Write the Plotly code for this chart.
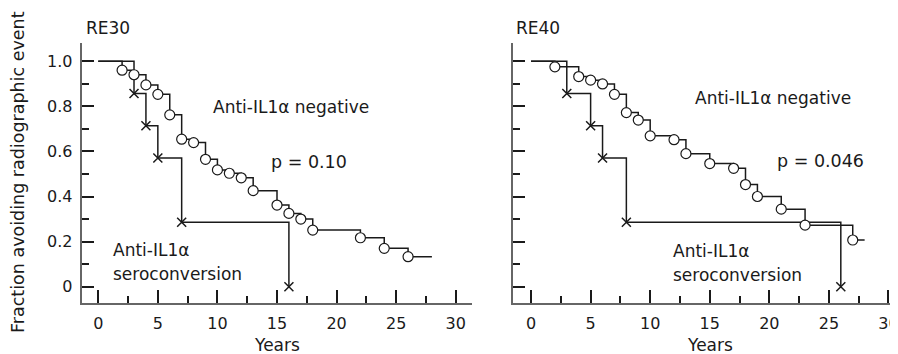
import plotly.graph_objects as go
from plotly.subplots import make_subplots

# ---- data ----
# RE30 panel
re30_neg_years = [2, 3, 4, 5, 6, 7, 8, 9, 10, 11, 12, 13, 15, 16, 17, 18, 22, 24, 26]
re30_neg_frac = [0.96, 0.94, 0.895, 0.853, 0.762, 0.654, 0.639, 0.565, 0.518, 0.503,
                 0.483, 0.426, 0.362, 0.325, 0.300, 0.251, 0.217, 0.170, 0.133]
re30_neg_end = 28
re30_sero_years = [3, 4, 5, 7, 16]
re30_sero_frac = [0.857, 0.714, 0.571, 0.286, 0.0]

# RE40 panel
re40_neg_years = [2, 4, 5, 6, 7, 8, 9, 10, 12, 13, 15, 17, 18, 19, 21, 23, 27]
re40_neg_frac = [0.975, 0.932, 0.916, 0.899, 0.853, 0.772, 0.739, 0.669, 0.652, 0.590,
                 0.546, 0.525, 0.453, 0.400, 0.344, 0.273, 0.207]
re40_neg_end = 28
re40_sero_years = [3, 5, 6, 8, 26]
re40_sero_frac = [0.857, 0.714, 0.571, 0.286, 0.0]

panel_titles = ["RE30", "RE40"]
p_values = ["p = 0.10", "p = 0.046"]
y_tickvals = [0, 0.2, 0.4, 0.6, 0.8, 1.0]
y_ticktext = ["0", "0.2", "0.4", "0.6", "0.8", "1.0"]
x_tickvals = [0, 5, 10, 15, 20, 25, 30]

# page body has an 8px margin: figure is offset by 8px in the window
OFF = 8
W, H = 898 - OFF, 354 - OFF
FONT = "DejaVu Sans"
INK = "#1a1a1a"
AXIS = "#666666"


def px(x):
    return (x - OFF) / W


def py(y):
    return (H - (y - OFF)) / H


fig = make_subplots(rows=1, cols=2)


def add_panel(col, neg_x, neg_y, neg_end, sero_x, sero_y):
    fig.add_trace(go.Scatter(
        x=[0] + neg_x + [neg_end], y=[1.0] + neg_y + [neg_y[-1]],
        mode="lines", line=dict(color=INK, width=1.5, shape="hv"),
        showlegend=False, hoverinfo="skip"), row=1, col=col)
    fig.add_trace(go.Scatter(
        x=[0] + sero_x, y=[1.0] + sero_y,
        mode="lines", line=dict(color=INK, width=1.5, shape="hv"),
        showlegend=False, hoverinfo="skip"), row=1, col=col)
    fig.add_trace(go.Scatter(
        x=sero_x, y=sero_y, mode="markers",
        marker=dict(symbol="x-thin-open", size=9, color=INK,
                    line=dict(color=INK, width=1.5)),
        showlegend=False), row=1, col=col)
    fig.add_trace(go.Scatter(
        x=neg_x, y=neg_y, mode="markers",
        marker=dict(symbol="circle", size=10, color="white",
                    line=dict(color=INK, width=1.2)),
        showlegend=False), row=1, col=col)


add_panel(1, re30_neg_years, re30_neg_frac, re30_neg_end, re30_sero_years, re30_sero_frac)
add_panel(2, re40_neg_years, re40_neg_frac, re40_neg_end, re40_sero_years, re40_sero_frac)

ydom = [py(303.3), py(43)]
yrange = [-0.0736, 1.0807]

common_x = dict(showline=True, linecolor=AXIS, linewidth=2, showgrid=False, zeroline=False,
                ticks="inside", ticklen=13, tickwidth=1.5, tickcolor=INK,
                tickvals=x_tickvals, ticktext=[str(v) for v in x_tickvals],
                ticklabelstandoff=4, ticklabeloverflow="allow",
                tickfont=dict(family=FONT, size=16, color=INK),
                minor=dict(ticks="inside", ticklen=7, tickwidth=1.5, tickcolor=INK,
                           dtick=2.5, tick0=0, showgrid=False))
common_y = dict(showline=True, linecolor=AXIS, linewidth=2, showgrid=False, zeroline=False,
                ticks="inside", ticklen=12, tickwidth=1.5, tickcolor=INK,
                tickvals=y_tickvals, ticktext=y_ticktext, range=yrange, domain=ydom,
                ticklabelstandoff=4,
                tickfont=dict(family=FONT, size=16, color=INK),
                minor=dict(ticks="inside", ticklen=7, tickwidth=1.5, tickcolor=INK,
                           dtick=0.1, tick0=0, showgrid=False))

fig.update_xaxes(**common_x)
fig.update_yaxes(**common_y)
fig.update_layout(
    xaxis=dict(domain=[px(81.7), px(471.7)], range=[-1.39, 31.34]),
    xaxis2=dict(domain=[px(513.3), 1.0], range=[-1.49, 30.8]),
    yaxis2=dict(showticklabels=False),
)

ann_font = dict(family=FONT, size=17, color=INK)
annotations = []
annotations.append(dict(text=panel_titles[0], xref="paper", yref="paper", x=px(84), y=py(28),
                        xanchor="left", yanchor="middle", showarrow=False, font=ann_font))
annotations.append(dict(text=panel_titles[1], xref="paper", yref="paper", x=px(514), y=py(28),
                        xanchor="left", yanchor="middle", showarrow=False, font=ann_font))
annotations.append(dict(text="Fraction avoiding radiographic event", xref="paper", yref="paper",
                        x=px(18), y=py(172), textangle=-90, xanchor="center", yanchor="middle",
                        showarrow=False, font=dict(family=FONT, size=17.5, color=INK)))
for xr in ["x", "x2"]:
    annotations.append(dict(text="Years", xref=xr, yref="paper", x=15, y=py(345),
                            xanchor="center", yanchor="middle", showarrow=False, font=ann_font))
labels = [
    ("x", "y", 9.46, 0.797, "Anti-IL1α negative", 17),
    ("x", "y", 14.33, 0.553, p_values[0], 17.5),
    ("x", "y", 1.07, 0.163, "Anti-IL1α", 17),
    ("x", "y", 1.07, 0.056, "seroconversion", 17),
    ("x2", "y2", 13.6, 0.835, "Anti-IL1α negative", 17),
    ("x2", "y2", 20.5, 0.557, p_values[1], 17.5),
    ("x2", "y2", 11.75, 0.158, "Anti-IL1α", 17),
    ("x2", "y2", 11.75, 0.052, "seroconversion", 17),
]
for xr, yr, x, y, t, s in labels:
    annotations.append(dict(text=t, xref=xr, yref=yr, x=x, y=y, xanchor="left", yanchor="middle",
                            showarrow=False, font=dict(family=FONT, size=s, color=INK)))

fig.update_layout(
    width=W, height=H, margin=dict(l=0, r=0, t=0, b=0),
    paper_bgcolor="white", plot_bgcolor="white",
    annotations=annotations,
)

fig.write_html("out.html")
